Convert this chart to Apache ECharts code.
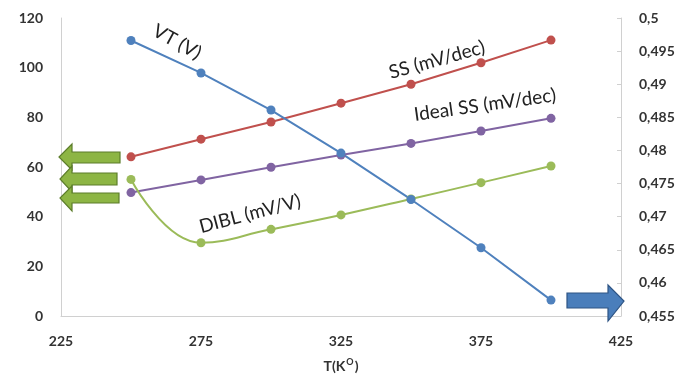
<!DOCTYPE html>
<html><head><meta charset="utf-8">
<script src="https://cdn.jsdelivr.net/npm/echarts@6/dist/echarts.min.js"></script>
<style>html,body{margin:0;padding:0;background:#fff}#c{width:685px;height:382px}</style>
</head><body><div id="c"></div>
<script>
const temps = [250, 275, 300, 325, 350, 375, 400];
const ssValues = [64.1, 71.2, 78.1, 85.7, 93.3, 102.0, 111.1];
const idealSsValues = [49.7, 54.8, 59.9, 64.8, 69.5, 74.5, 79.6];
const diblValues = [55.0, 29.5, 34.9, 40.7, 47.1, 53.7, 60.4];
const vtValues = [0.4966, 0.4917, 0.4861, 0.4796, 0.4726, 0.4653, 0.4574];
const seriesNames = ['SS (mV/dec)', 'Ideal SS (mV/dec)', 'DIBL (mV/V)', 'VT (V)'];

const pair = arr => temps.map((t, i) => [t, arr[i]]);
const FONT = 'Lato, "Liberation Sans", sans-serif';
const axisLabel = {color: '#333', fontSize: 14, fontWeight: 'bold', fontFamily: FONT};
const axisLine = {show: true, lineStyle: {color: '#d0d0d0', width: 1}};

const chart = echarts.init(document.getElementById('c'), null, {renderer: 'canvas'});
const lineSeries = (name, data, color, yIdx, smooth) => ({
  name, type: 'line', data: pair(data), yAxisIndex: yIdx,
  smooth: smooth || false,
  symbol: 'circle', symbolSize: 9,
  lineStyle: {color, width: 2},
  itemStyle: {color},
  z: 3
});
const note = (text, x, y, rot) => ({type: 'text', x, y, rotation: rot,
  style: {text, font: '19px ' + FONT, fill: '#222', align: 'center', verticalAlign: 'middle'}});

chart.setOption({
  animation: false,
  grid: {left: 61, right: 64, top: 18, bottom: 66, containLabel: false},
  xAxis: {
    type: 'value', min: 225, max: 425, interval: 50,
    axisLine, axisTick: {show: false}, splitLine: {show: false},
    axisLabel: Object.assign({margin: 18}, axisLabel),
    name: '{a|T(K}{s|O}{a|)}', nameLocation: 'middle', nameGap: 42,
    nameTextStyle: {rich: {
      a: {fontSize: 14, fontWeight: 'bold', color: '#333', fontFamily: FONT},
      s: {fontSize: 9, fontWeight: 'bold', color: '#333', fontFamily: FONT, verticalAlign: 'top', padding: [0, 1, 8, 1]}
    }}
  },
  yAxis: [
    {type: 'value', min: 0, max: 120, interval: 20,
     axisLine, axisTick: {show: false}, splitLine: {show: false},
     axisLabel: Object.assign({margin: 18}, axisLabel)},
    {type: 'value', min: 0.455, max: 0.5, interval: 0.005, position: 'right',
     axisLine, axisTick: {show: true, inside: true, length: 4, lineStyle: {color: '#d0d0d0'}},
     splitLine: {show: false},
     axisLabel: Object.assign({margin: 18, formatter: v => v.toFixed(3).replace(/0+$/, '').replace('.', ',')}, axisLabel)}
  ],
  series: [
    lineSeries(seriesNames[0], ssValues, '#C0504D', 0),
    lineSeries(seriesNames[1], idealSsValues, '#8064A2', 0),
    lineSeries(seriesNames[2], diblValues, '#9BBB59', 0, 0.45),
    lineSeries(seriesNames[3], vtValues, '#4F81BD', 1)
  ],
  graphic: [
    note(seriesNames[3], 177, 42, -0.5),
    note(seriesNames[0], 437, 60, 0.27),
    note(seriesNames[1], 485, 105, 0.14),
    note(seriesNames[2], 250, 214, 0.26),
    {type: 'polygon', shape: {points: [[120,152],[72,152],[72,144],[59,157],[72,170],[72,163],[120,163]]}, style: {fill: '#8DB544', stroke: '#5C7D2A', lineWidth: 1.2}, z: 10},
    {type: 'polygon', shape: {points: [[117,173],[72,173],[72,166],[60,179],[72,192],[72,185],[117,185]]}, style: {fill: '#8DB544', stroke: '#5C7D2A', lineWidth: 1.2}, z: 10},
    {type: 'polygon', shape: {points: [[119,193],[72,193],[72,186],[60,198],[72,211],[72,203],[119,203]]}, style: {fill: '#8DB544', stroke: '#5C7D2A', lineWidth: 1.2}, z: 10},
    {type: 'polygon', shape: {points: [[567,293],[608,293],[608,285],[624,301],[608,321],[608,308],[567,308]]}, style: {fill: '#4A7EBB', stroke: '#2E5484', lineWidth: 1.2}, z: 10}
  ]
});
</script></body></html>
